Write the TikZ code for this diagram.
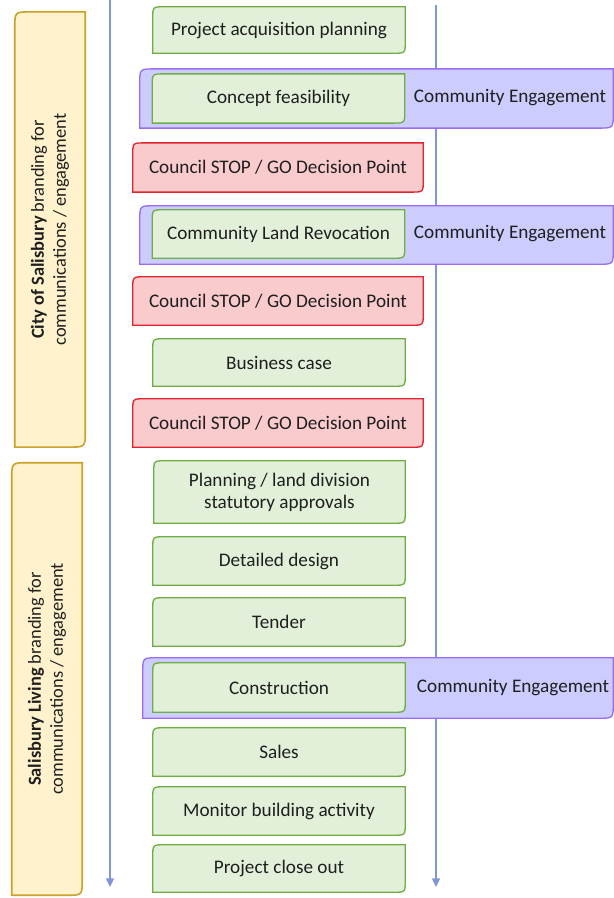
\documentclass[tikz,border=0pt]{standalone}
\usepackage{fontspec}
\setmainfont{Carlito}
\usetikzlibrary{backgrounds,arrows.meta}

\definecolor{stepfill}{HTML}{E2F0D9}
\definecolor{stepline}{HTML}{70AD47}
\definecolor{stopfill}{HTML}{F9CBCC}
\definecolor{stopline}{HTML}{E3222B}
\definecolor{engfill}{HTML}{CCCCFF}
\definecolor{engline}{HTML}{9B6CF0}
\definecolor{brandfill}{HTML}{FFF2CC}
\definecolor{brandline}{HTML}{C9A227}
\definecolor{flowblue}{HTML}{7F97D6}

% box outline: top left and bottom right corners rounded, the other two square
\newcommand{\diagframe}[3]{%
  \path[#2] ([yshift=-#3]#1.north west) .. controls (#1.north west) .. ([xshift=#3]#1.north west)
    -- (#1.north east) -- ([yshift=#3]#1.south east)
    .. controls (#1.south east) .. ([xshift=-#3]#1.south east)
    -- (#1.south west) -- cycle;}

\begin{document}
\begin{tikzpicture}[x=0.75pt,y=-0.75pt,
    every node/.style={font=\fontsize{14.4}{16.5}\selectfont, text=black!88},
    stepbox/.style={inner sep=0pt, align=center, minimum width=189pt, minimum height=36pt},
    stopbox/.style={stepbox, minimum width=217.5pt},
    engbox/.style={inner sep=0pt, minimum width=354.75pt, minimum height=44pt},
    brandbox/.style={inner sep=0pt, minimum width=52.5pt, minimum height=326pt},
    brandtext/.style={rotate=90, align=center, font=\fontsize{13.8}{16.5}\selectfont},
    green/.style={fill=stepfill, draw=stepline, line width=1pt},
    stop/.style={fill=stopfill, draw=stopline, line width=1pt},
    engage/.style={fill=engfill, draw=engline, line width=1pt},
    brand/.style={fill=brandfill, draw=brandline, line width=1.2pt},
    flow/.style={draw=flowblue, line width=1pt, -{Triangle[width=6pt,length=6.5pt]}}]
    \useasboundingbox (0,0) rectangle (613,898);

    % branding bands
    \node[brandbox] (brand1) at (50,229.5) {};
    \node[brandbox, minimum height=324pt] (brand2) at (47,679) {};
    \node[brandtext] (brandtext1) at (brand1.center)
        {\textbf{City of Salisbury} branding for\\ communications / engagement};
    \node[brandtext] (brandtext2) at (brand2.center)
        {\textbf{Salisbury Living} branding for\\ communications / engagement};

    % engagement bands
    \node[engbox] (eng1) at (376.5,98.5) {};
    \node[engbox, minimum height=43.5pt] (eng2) at (376.5,235) {};
    \node[engbox, minimum width=352.5pt, minimum height=45pt] (eng3) at (378,688) {};
    \node (engtext1) at (510,98) {Community Engagement};
    \node (engtext2) at (510,234) {Community Engagement};
    \node (engtext3) at (513,688) {Community Engagement};

    % steps
    \node[stepbox, minimum height=34.5pt] (acq) at (279,30) {Project acquisition planning};
    \node[stepbox, minimum height=36.5pt] (feas) at (278.5,98.5) {Concept feasibility};
    \node[stopbox, minimum height=36.5pt] (stop1) at (278,167.5) {Council STOP / GO Decision Point};
    \node[stepbox] (revoc) at (278.5,234) {Community Land Revocation};
    \node[stopbox] (stop2) at (278,301) {Council STOP / GO Decision Point};
    \node[stepbox, minimum height=35.25pt] (busi) at (279,362.5) {Business case};
    \node[stopbox] (stop3) at (278,423) {Council STOP / GO Decision Point};
    \node[stepbox, minimum width=188.25pt, minimum height=46.5pt] (plan) at (279.5,492) {Planning / land division\\ statutory approvals};
    \node[stepbox] (design) at (279,561) {Detailed design};
    \node[stepbox] (tender) at (279,622) {Tender};
    \node[stepbox, minimum height=36.75pt] (constr) at (279,687.5) {Construction};
    \node[stepbox] (sales) at (279,752) {Sales};
    \node[stepbox] (monitor) at (279,811) {Monitor building activity};
    \node[stepbox, minimum height=35.25pt] (close) at (279,868.5) {Project close out};

    % the two arrows running down the process
    \coordinate (lt) at (110,0);
    \coordinate (lb) at (110,887);
    \coordinate (rt) at (436,5);
    \coordinate (rb) at (436,887);

    \begin{scope}[on background layer]
        \draw[flow] (lt) -- (lb);
        \draw[flow] (rt) -- (rb);
        \diagframe{brand1}{brand}{12pt}
        \diagframe{brand2}{brand}{12pt}
        \foreach \n in {eng1,eng2,eng3} {\diagframe{\n}{engage}{11pt}}
        \foreach \n in {acq,feas,revoc,busi,plan,design,tender,constr,sales,monitor,close}
            {\diagframe{\n}{green}{9pt}}
        \foreach \n in {stop1,stop2,stop3} {\diagframe{\n}{stop}{9pt}}
    \end{scope}
\end{tikzpicture}
\end{document}
